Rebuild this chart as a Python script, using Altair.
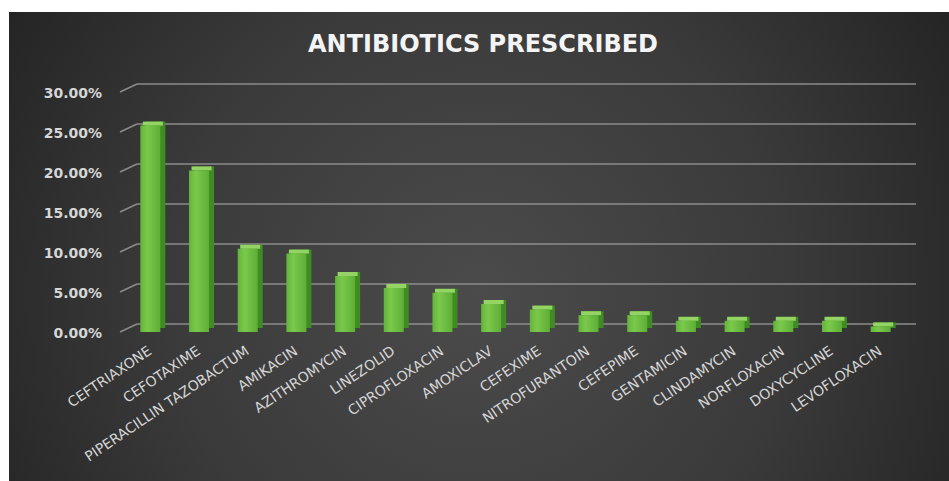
import altair as alt
import pandas as pd

# Share of prescriptions per antibiotic
drugs = [
    "CEFTRIAXONE", "CEFOTAXIME", "PIPERACILLIN TAZOBACTUM", "AMIKACIN",
    "AZITHROMYCIN", "LINEZOLID", "CIPROFLOXACIN", "AMOXICLAV", "CEFEXIME",
    "NITROFURANTOIN", "CEFEPIME", "GENTAMICIN", "CLINDAMYCIN", "NORFLOXACIN",
    "DOXYCYCLINE", "LEVOFLOXACIN",
]
shares = [0.258, 0.202, 0.104, 0.098, 0.070, 0.055, 0.049, 0.035, 0.028,
          0.021, 0.021, 0.014, 0.014, 0.014, 0.014, 0.007]
tick_values = [0.0, 0.05, 0.10, 0.15, 0.20, 0.25, 0.30]
tick_labels = ["0.00%", "5.00%", "10.00%", "15.00%", "20.00%", "25.00%", "30.00%"]
title_text = "ANTIBIOTICS PRESCRIBED"

bars_df = pd.DataFrame({"drug": drugs, "share": shares})
grid_df = pd.DataFrame({"share": tick_values, "label": tick_labels})
one_df = pd.DataFrame({"k": [0]})

W, H = 779, 240
DEPTH_X, DEPTH_Y = 5, 4          # pseudo-3D depth of each column
WALL_X, WALL_Y = 11, 8           # offset of the back wall gridlines

y_scale = alt.Scale(domain=[0, 0.30], nice=False, zero=True)
x_scale = alt.Scale(domain=drugs, paddingInner=0, paddingOuter=0)
label_color = "#d6d6d6"

X = alt.X("drug:N", sort=drugs, scale=x_scale, axis=None)
Y = alt.Y("share:Q", scale=y_scale, axis=None)

# dark radial backdrop of the chart panel
backdrop = alt.Chart(one_df).mark_rect(
    fill=alt.Gradient(
        gradient="radial",
        stops=[
            alt.GradientStop(offset=0, color="#4b4b4b"),
            alt.GradientStop(offset=0.45, color="#3a3a3a"),
            alt.GradientStop(offset=1, color="#171717"),
        ],
        x1=0.5, y1=0.55, r1=0, x2=0.5, y2=0.55, r2=0.74,
    )
).encode(
    x=alt.value(-117), x2=alt.value(823),
    y=alt.value(-80), y2=alt.value(389),
)

# gridlines on the back wall
grid = alt.Chart(grid_df).mark_rule(
    color="#8c8c8c", strokeWidth=1.6, yOffset=-WALL_Y
).encode(
    y=Y, x=alt.value(WALL_X), x2=alt.value(W + WALL_X),
)

# slanted tick lines joining the labels to the back wall
slants = alt.Chart(grid_df).mark_rule(
    color="#8c8c8c", strokeWidth=1.4, y2Offset=-WALL_Y
).encode(
    y=Y, y2=alt.Y2("share:Q"),
    x=alt.value(-6), x2=alt.value(WALL_X),
)

# percentage labels of the value axis
y_labels = alt.Chart(grid_df).mark_text(
    font="DejaVu Sans", fontWeight="bold", fontSize=14, color=label_color,
    align="right", baseline="middle", dy=2,
).encode(y=Y, x=alt.value(-24), text="label:N")

base = alt.Chart(bars_df)

side = base.mark_bar(
    size=20, color="#3f8c22", xOffset=DEPTH_X,
    yOffset=-DEPTH_Y, y2Offset=-DEPTH_Y,
).encode(x=X, y=Y, y2=alt.datum(0))

top = base.mark_bar(
    size=20, color="#93d465", xOffset=DEPTH_X / 2, yOffset=-DEPTH_Y,
).encode(x=X, y=Y, y2=alt.Y2("share:Q"))

front = base.mark_bar(
    size=20,
    fill=alt.Gradient(
        gradient="linear",
        stops=[
            alt.GradientStop(offset=0, color="#62b53a"),
            alt.GradientStop(offset=0.35, color="#7ac94c"),
            alt.GradientStop(offset=1, color="#5eae36"),
        ],
        x1=0, y1=0, x2=1, y2=0,
    ),
).encode(x=X, y=Y, y2=alt.datum(0))

# slanted category labels under the columns
x_labels = base.mark_text(
    font="DejaVu Sans", fontSize=14, color=label_color,
    align="right", baseline="middle", angle=326,
).encode(x=X, y=alt.value(H + 18), text="drug:N")

title = alt.Chart(one_df).mark_text(
    text=title_text, font="DejaVu Sans", fontWeight="bold", fontSize=24,
    color="#f4f4f4", align="center", baseline="alphabetic",
).encode(x=alt.value(357), y=alt.value(-40))

chart = alt.layer(
    backdrop, grid, slants, y_labels, side, top, front, x_labels, title
).properties(
    width=W, height=H,
    autosize=alt.AutoSizeParams(type="none"),
    padding={"left": 126, "top": 92, "right": 44, "bottom": 149},
).configure(background="white").configure_view(stroke=None)

chart.save("out.html", embed_options={"renderer": "svg", "actions": False})
